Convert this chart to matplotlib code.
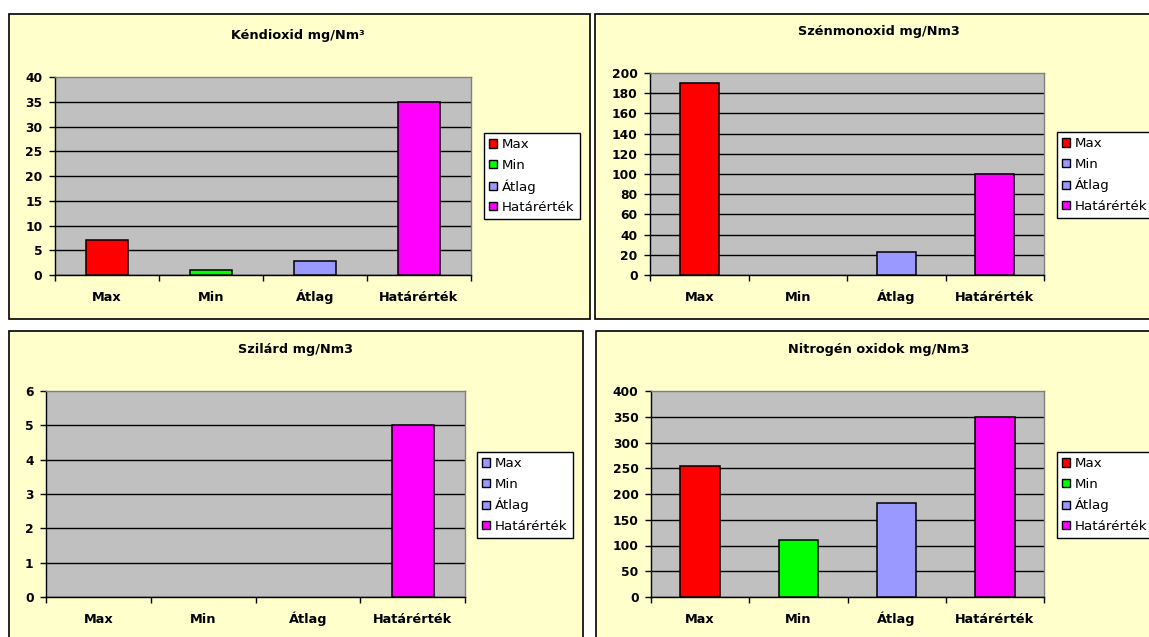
import matplotlib
matplotlib.use("Agg")
import matplotlib.pyplot as plt
from matplotlib.patches import Rectangle, Patch

# ---- data -------------------------------------------------------------
categories = ["Max", "Min", "Átlag", "Határérték"]

so2_values = [7, 1, 2.75, 35]
co_values = [190, 0, 23, 100]
dust_values = [0, 0, 0, 5]
nox_values = [254, 111, 183, 350]

so2_title = "Kéndioxid mg/Nm³"
co_title = "Szénmonoxid mg/Nm3"
dust_title = "Szilárd mg/Nm3"
nox_title = "Nitrogén oxidok mg/Nm3"

so2_ticks = list(range(0, 41, 5))
co_ticks = list(range(0, 201, 20))
dust_ticks = list(range(0, 7, 1))
nox_ticks = list(range(0, 401, 50))

# ---- style ------------------------------------------------------------
RED = "#FF0000"
GREEN = "#00FF00"
LAVENDER = "#9999FF"
MAGENTA = "#FF00FF"
so2_colors = [RED, GREEN, LAVENDER, MAGENTA]
co_colors = [RED, LAVENDER, LAVENDER, MAGENTA]
dust_colors = [LAVENDER, LAVENDER, LAVENDER, MAGENTA]
nox_colors = [RED, GREEN, LAVENDER, MAGENTA]

CHART_BG = "#FFFFCC"
PLOT_BG = "#C0C0C0"

W, H = 1149, 637
plt.rcParams["font.family"] = ["DejaVu Sans"]

fig = plt.figure(figsize=(W / 100, H / 100), dpi=100, facecolor="white")


def px_rect(x0, y0, x1, y1):
    """Pixel box (top-left origin) -> figure fraction [l, b, w, h]."""
    return [x0 / W, 1 - y1 / H, (x1 - x0) / W, (y1 - y0) / H]


def chart(frame, plot, title, title_xy, values, colors, ticks, legend_xy):
    l, b, w, h = px_rect(*frame)
    fig.add_artist(Rectangle((l, b), w, h, transform=fig.transFigure,
                             facecolor=CHART_BG, edgecolor="black",
                             linewidth=1.2, zorder=0))
    ax = fig.add_axes(px_rect(*plot))
    ax.set_facecolor(PLOT_BG)
    x = list(range(len(categories)))
    # empty (zero) bars get no outline so nothing shows on the axis
    edge_widths = [1.1 if v else 0 for v in values]
    ax.bar(x, values, width=0.4, color=colors, edgecolor="black",
           linewidth=edge_widths, zorder=3)
    ax.set_xlim(-0.5, len(categories) - 0.5)
    ax.set_ylim(ticks[0], ticks[-1])

    ax.set_yticks(ticks)
    ax.set_yticklabels([str(t) for t in ticks])
    ax.tick_params(axis="y", direction="out", length=4, width=1,
                   pad=5, labelsize=8.8, colors="black")
    for lab in ax.get_yticklabels():
        lab.set_fontweight("bold")

    # category boundaries carry the tick marks, centres carry the labels
    ax.set_xticks([i - 0.5 for i in range(len(categories) + 1)])
    ax.set_xticklabels([])
    ax.tick_params(axis="x", which="major", direction="out", length=4,
                   width=1, colors="black")
    ax.set_xticks(x, minor=True)
    ax.set_xticklabels(categories, minor=True, fontsize=9.3,
                       fontweight="bold", va="baseline")
    ax.tick_params(axis="x", which="minor", length=0, pad=18.7)

    ax.yaxis.grid(True, color="black", linewidth=1.0, zorder=1)
    ax.set_axisbelow(True)
    ax.yaxis.get_gridlines()[-1].set_visible(False)

    for side in ("left", "bottom"):
        ax.spines[side].set_color("black")
        ax.spines[side].set_linewidth(1.0)
    for side in ("top", "right"):
        ax.spines[side].set_color("#808080")
        ax.spines[side].set_linewidth(1.0)

    fig.text(title_xy[0] / W, 1 - title_xy[1] / H, title, ha="center",
             va="center", fontsize=9.3, fontweight="bold")

    handles = [Patch(facecolor=c, edgecolor="black", linewidth=1.0)
               for c in colors]
    leg = ax.legend(handles, categories, loc="upper left",
                    bbox_to_anchor=(legend_xy[0] / W, 1 - legend_xy[1] / H),
                    bbox_transform=fig.transFigure, fontsize=9.6,
                    frameon=True, fancybox=False, framealpha=1,
                    edgecolor="black", borderpad=0.4, labelspacing=0.55,
                    handlelength=0.6, handleheight=0.6, handletextpad=0.35,
                    borderaxespad=0)
    leg.get_frame().set_linewidth(1.0)
    return ax


chart((9, 14, 590, 319), (55, 77, 471, 275), so2_title, (298, 35),
      so2_values, so2_colors, so2_ticks, (484, 133))
chart((595, 14, 1170, 319), (650, 73, 1044, 275), co_title, (879, 32),
      co_values, co_colors, co_ticks, (1057, 132))
chart((9, 331, 583, 660), (46, 391, 465, 597), dust_title, (295, 349),
      dust_values, dust_colors, dust_ticks, (477, 452))
chart((596, 331, 1170, 660), (651, 391, 1044, 597), nox_title, (879, 349),
      nox_values, nox_colors, nox_ticks, (1057, 452))

fig.savefig("out.png", dpi=100, facecolor="white")
